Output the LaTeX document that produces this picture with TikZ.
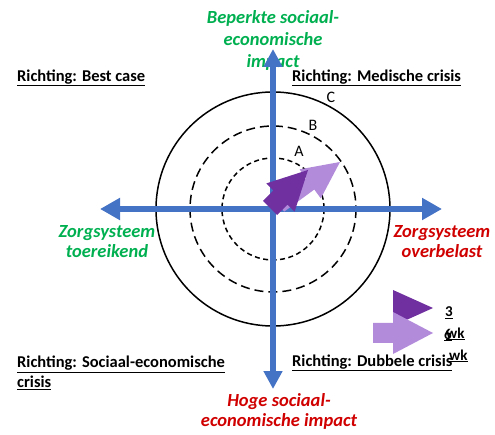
\documentclass[tikz,border=0pt]{standalone}
\usepackage{fontspec}
\setmainfont{Carlito}
\usetikzlibrary{arrows.meta,calc}
\definecolor{axisblue}{HTML}{4472C4}
\definecolor{darkpurple}{HTML}{7030A0}
\definecolor{lightpurple}{HTML}{B38BDB}
\definecolor{goodgreen}{HTML}{00B050}
\definecolor{badred}{HTML}{D00000}
\newcommand{\fatarrow}[6]{% tail, tip, head length, head half width, shaft half width, colour
  \coordinate (hb) at ($(#2)!#3!(#1)$);
  \fill[#6] ($(#1)!#5!90:(#2)$) -- ($(hb)!#5!-90:(#1)$) -- ($(hb)!#4!-90:(#1)$) -- (#2)
    -- ($(hb)!#4!90:(#1)$) -- ($(hb)!#5!90:(#1)$) -- ($(#1)!#5!-90:(#2)$) -- cycle;
}
\tikzset{
  ring/.style={draw=black, line width=1.5pt},
  ringB/.style={ring, dash pattern=on 9pt off 5pt},
  ringA/.style={ring, dash pattern=on 5pt off 3.5pt},
  hax/.style={draw=axisblue, line width=6.5pt, {Triangle[length=20pt,width=21pt]}-{Triangle[length=20pt,width=21pt]}},
  vax/.style={draw=axisblue, line width=6.5pt, {Triangle[length=18pt,width=18pt]}-{Triangle[length=18pt,width=18pt]}},
  quad/.style={anchor=west, font=\bfseries\fontsize{16.5}{20}\selectfont, inner sep=0pt, align=left},
  axlabel/.style={font=\bfseries\itshape\fontsize{18.5}{20}\selectfont, align=center, inner sep=0pt},
  ringlabel/.style={font=\fontsize{16}{16}\selectfont, inner sep=0pt},
  legendtext/.style={anchor=west, font=\bfseries\fontsize{15}{15}\selectfont, inner sep=0pt},
}
\begin{document}
\begin{tikzpicture}[x=1pt,y=-1pt]
\useasboundingbox (0,0) rectangle (495,435);
\coordinate (ctr) at (273,209);
% rings
\draw[ring] (ctr) circle[radius=117];
\draw[ringB] (ctr) circle[radius=83];
\draw[ringA] (ctr) circle[radius=51];
\node[ringlabel] (lC) at (331,97) {C};
\node[ringlabel] (lB) at (313,125) {B};
\node[ringlabel] (lA) at (299,151) {A};
% axis labels
\node[axlabel, text=goodgreen, font=\bfseries\itshape\fontsize{18.5}{22}\selectfont] (tlab) at (273,40) {Beperkte sociaal-\\economische\\impact};
\node[axlabel, text=badred] (blab) at (279,411) {Hoge sociaal-\\economische impact};
\node[axlabel, text=goodgreen] (llab) at (107,242) {Zorgsysteem\\toereikend};
\node[axlabel, text=badred] (rlab) at (442,242) {Zorgsysteem\\overbelast};
% quadrant labels
\node[quad] (q1) at (17,78) {\underline{Richting: Best case}};
\node[quad] (q2) at (292,78) {\underline{Richting: Medische crisis}};
\node[quad] (q3) at (17,373) {\underline{Richting: Sociaal-economische}\\\underline{crisis}};
\node[quad] (q4) at (292,363) {\underline{Richting: Dubbele crisis}};
% axes
\coordinate (left) at (100,209);
\coordinate (right) at (442,209);
\coordinate (top) at (273,49);
\coordinate (bottom) at (273,389);
\draw[hax] (left) -- (right);
\draw[vax] (bottom) -- (top);
% purple arrows
\coordinate (lt) at (280,206);
\coordinate (lp) at (340,162);
\fatarrow{lt}{lp}{37pt}{18pt}{7pt}{lightpurple}
\coordinate (dt) at (270,208);
\coordinate (dp) at (308,170);
\fatarrow{dt}{dp}{39pt}{20pt}{10pt}{darkpurple}
% legend
\fill[darkpurple] (393,290) -- (433,308) -- (393,326) -- cycle;
\coordinate (gt) at (373,333);
\coordinate (gp) at (433,333);
\fatarrow{gt}{gp}{40pt}{21pt}{10pt}{lightpurple}
\node[legendtext] (w1) at (445,313) {\underline{3}};
\node[legendtext] (w2) at (446,334) {\underline{wk}};
\node[legendtext] (w2b) at (444,335) {\underline{6}};
\node[legendtext] (w3) at (449,356) {\underline{wk}};
\end{tikzpicture}
\end{document}
